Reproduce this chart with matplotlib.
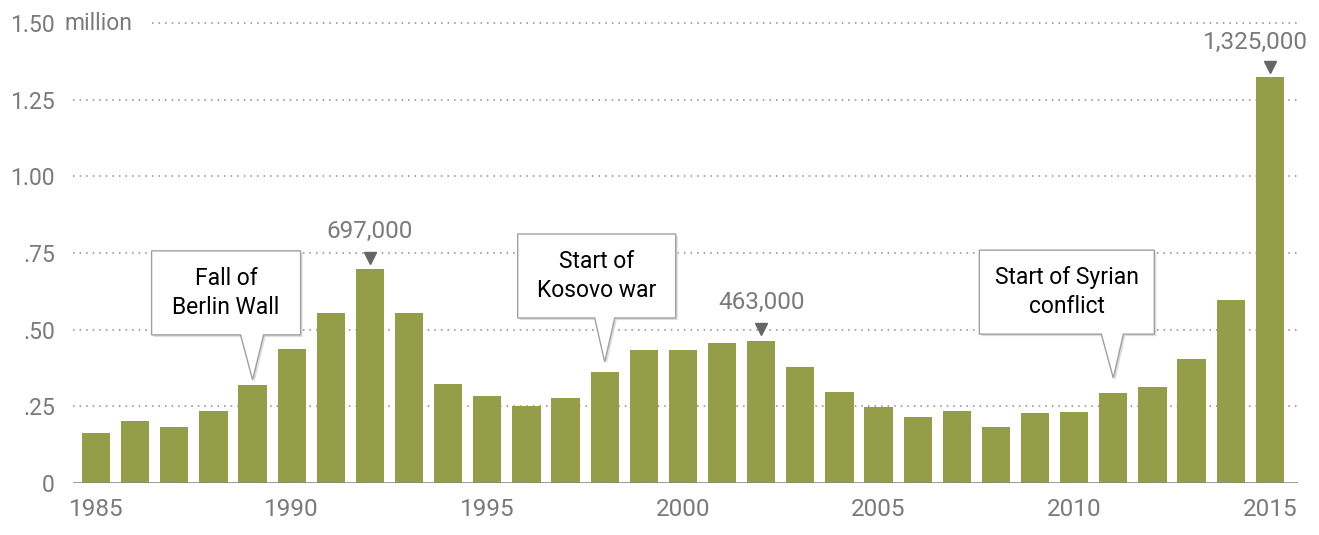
import matplotlib
matplotlib.use('Agg')
import matplotlib.pyplot as plt
from matplotlib.patches import Polygon
from matplotlib.transforms import Affine2D, ScaledTranslation

plt.rcParams['font.family'] = ['Roboto', 'DejaVu Sans']

# asylum applications per year, millions
anos = list(range(1985, 2016))
valores = [0.163, 0.202, 0.183, 0.235, 0.320, 0.437, 0.554, 0.697, 0.554, 0.323,
           0.284, 0.251, 0.277, 0.362, 0.434, 0.434, 0.456, 0.463, 0.378, 0.297,
           0.248, 0.215, 0.235, 0.183, 0.228, 0.232, 0.293, 0.313, 0.404, 0.597,
           1.325]

yticks = [0, 0.25, 0.5, 0.75, 1.0, 1.25, 1.5]
ylabels = ["0", ".25", ".50", ".75", "1.00", "1.25", "1.50"]
xticks = [1985, 1990, 1995, 2000, 2005, 2010, 2015]

destaques = {1992: "697,000", 2002: "463,000", 2015: "1,325,000"}
# offsets (pixels): triangle above bar, label x and label y
desloc = {1992: (11, 0, 38), 2002: (12, 0, 39), 2015: (10, -14, 34)}

# callouts: year, text, shape in pixels (left, right, top, bottom, base0, base1, gap)
eventos = [
    (1989, "Fall of\nBerlin Wall", (-101, 48, 129, 45, -12, 11, 5)),
    (1998, "Start of\nKosovo war", (-87, 71, 128, 44, -10, 10, 10)),
    (2011, "Start of Syrian\nconflict", (-134, 41, 128, 44, -12, 10, 15)),
]

verde = '#949D48'
cinza = '#7a7a7a'

fig = plt.figure(figsize=(13.19, 5.35), dpi=100)
ax = fig.add_axes([73/1319, 52/535, 1225/1319, 460/535])

ax.bar(anos, valores, width=0.72, color=verde, zorder=2)
ax.set_xlim(1984.41, 2015.72)
ax.set_ylim(0, 1.5)

for s in ax.spines.values():
    s.set_visible(False)

# dotted grid
for y in yticks[1:]:
    xmin = 0.0645 if y == 1.5 else 0
    ax.axhline(y, xmin=xmin, xmax=1, color='#8a8a8a', lw=1.1,
               ls=(0, (1, 3.3)), zorder=1, clip_on=False)
ax.axhline(0, color='#8a8a8a', lw=1.2, zorder=3)

ax.set_yticks(yticks)
ax.set_yticklabels(ylabels)
ax.set_xticks(xticks)
ax.set_xticklabels([str(x) for x in xticks])
ax.tick_params(axis='both', length=0, labelcolor=cinza)
ax.tick_params(axis='y', pad=13, labelsize=16.5)
ax.tick_params(axis='x', pad=11, labelsize=17.5)

ax.annotate("million", xy=(0, 1.5), xycoords=('axes fraction', 'data'),
            xytext=(-9, 0), textcoords='offset pixels', ha='left', va='center',
            fontsize=16.5, color=cinza, annotation_clip=False)

# value labels with little triangles
for ano, txt in destaques.items():
    v = valores[anos.index(ano)]
    dt, dx, dl = desloc[ano]
    off = ax.transData + Affine2D().translate(0, dt)
    ax.plot([ano], [v], marker='v', ms=9, color='#666666', transform=off,
            clip_on=False, zorder=4)
    ax.annotate(txt, xy=(ano, v), xytext=(dx, dl), textcoords='offset pixels',
                ha='center', va='center', fontsize=17.5, color=cinza,
                annotation_clip=False)

# callout boxes
for ano, txt, forma in eventos:
    l, r, t, b, b0, b1, gap = forma
    v = valores[anos.index(ano)]
    tr = Affine2D().translate(0, gap) + ScaledTranslation(ano, v, ax.transData)
    pts = [(l, b), (b0, b), (0, 0), (b1, b), (r, b), (r, t), (l, t)]
    sombra = Polygon(pts, closed=True, fc='#dcdcdc', ec='none',
                     transform=Affine2D().translate(2, -2) + tr, zorder=5, clip_on=False)
    caixa = Polygon(pts, closed=True, fc='white', ec='#a0a0a0', lw=1,
                    transform=tr, zorder=6, clip_on=False)
    ax.add_patch(sombra)
    ax.add_patch(caixa)
    ax.text((l + r) / 2, (t + b) / 2, txt, transform=tr, ha='center', va='center',
            fontsize=16.5, color='black', linespacing=1.3, zorder=7)

fig.savefig("out.png", dpi=100)
